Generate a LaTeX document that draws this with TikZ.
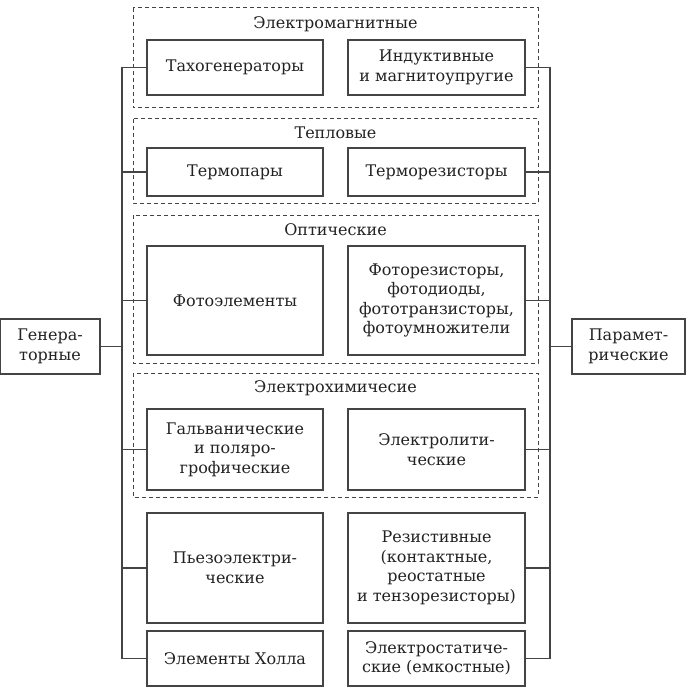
\documentclass[tikz,border=0pt]{standalone}
\usepackage{fontspec}
\setmainfont{DejaVu Serif}
\definecolor{ln}{HTML}{444444}
\definecolor{tx}{HTML}{222222}
\begin{document}
\begin{tikzpicture}[x=1pt,y=-1pt,
  box/.style={draw=ln, line width=1.1pt, inner sep=0pt, align=center, text=tx,
    font=\fontsize{16}{19.5}\selectfont},
  grp/.style={draw=ln, line width=1pt, dash pattern=on 4pt off 3pt},
  title/.style={anchor=base, text=tx, inner sep=0pt, font=\fontsize{16}{19.5}\selectfont},
  wire/.style={draw=ln, line width=1.1pt}]
\useasboundingbox (0,0) rectangle (686,687);
% groups
\draw[grp] (133,8) rectangle (538,108);
\draw[grp] (133,119) rectangle (538,203);
\draw[grp] (133,215) rectangle (538,363);
\draw[grp] (133,373) rectangle (538,497);
\node[title] (t1) at (335.5,29) {Электромагнитные};
\node[title] (t2) at (335.5,139) {Тепловые};
\node[title] (t3) at (335.5,235) {Оптические};
\node[title] (t4) at (335.5,392) {Электрохимичесие};
% main boxes
\node[box, minimum width=100pt, minimum height=55pt] (gen) at (50,346.5) {Генера-\\торные};
\node[box, minimum width=113pt, minimum height=55pt] (par) at (628.5,346.5) {Парамет-\\рические};
% left column
\node[box, minimum width=176pt, minimum height=55pt] (l1) at (235,67.5) {Тахогенераторы};
\node[box, minimum width=176pt, minimum height=48pt] (l2) at (235,172) {Термопары};
\node[box, minimum width=176pt, minimum height=109pt] (l3) at (235,300.5) {Фотоэлементы};
\node[box, minimum width=176pt, minimum height=81pt] (l4) at (235,449.5) {Гальванические\\и поляро-\\грофические};
\node[box, minimum width=176pt, minimum height=110pt] (l5) at (235,568) {Пьезоэлектри-\\ческие};
\node[box, minimum width=176pt, minimum height=55pt] (l6) at (235,658.5) {Элементы Холла};
% right column
\node[box, minimum width=177pt, minimum height=55pt] (r1) at (436.5,67.5) {Индуктивные\\и магнитоупругие};
\node[box, minimum width=177pt, minimum height=48pt] (r2) at (436.5,172) {Терморезисторы};
\node[box, minimum width=177pt, minimum height=109pt] (r3) at (436.5,300.5) {Фоторезисторы,\\фотодиоды,\\фототранзисторы,\\фотоумножители};
\node[box, minimum width=177pt, minimum height=81pt] (r4) at (436.5,449.5) {Электролити-\\ческие};
\node[box, minimum width=177pt, minimum height=110pt] (r5) at (436.5,568) {Резистивные\\(контактные,\\реостатные\\и тензорезисторы)};
\node[box, minimum width=177pt, minimum height=55pt] (r6) at (436.5,658.5) {Электростатиче-\\ские (емкостные)};
% buses
\coordinate (lb) at (122,0);
\coordinate (rb) at (550,0);
\draw[wire] (l1.west -| lb) -- (l6.west -| lb);
\draw[wire] (r1.east -| rb) -- (r6.east -| rb);
\draw[wire] (gen.east) -- (gen.east -| lb);
\draw[wire] (par.west) -- (par.west -| rb);
\foreach \n in {l1,l2,l3,l4,l5,l6}{\draw[wire] (\n.west) -- (\n.west -| lb);}
\foreach \n in {r1,r2,r3,r4,r5,r6}{\draw[wire] (\n.east) -- (\n.east -| rb);}
\end{tikzpicture}
\end{document}
